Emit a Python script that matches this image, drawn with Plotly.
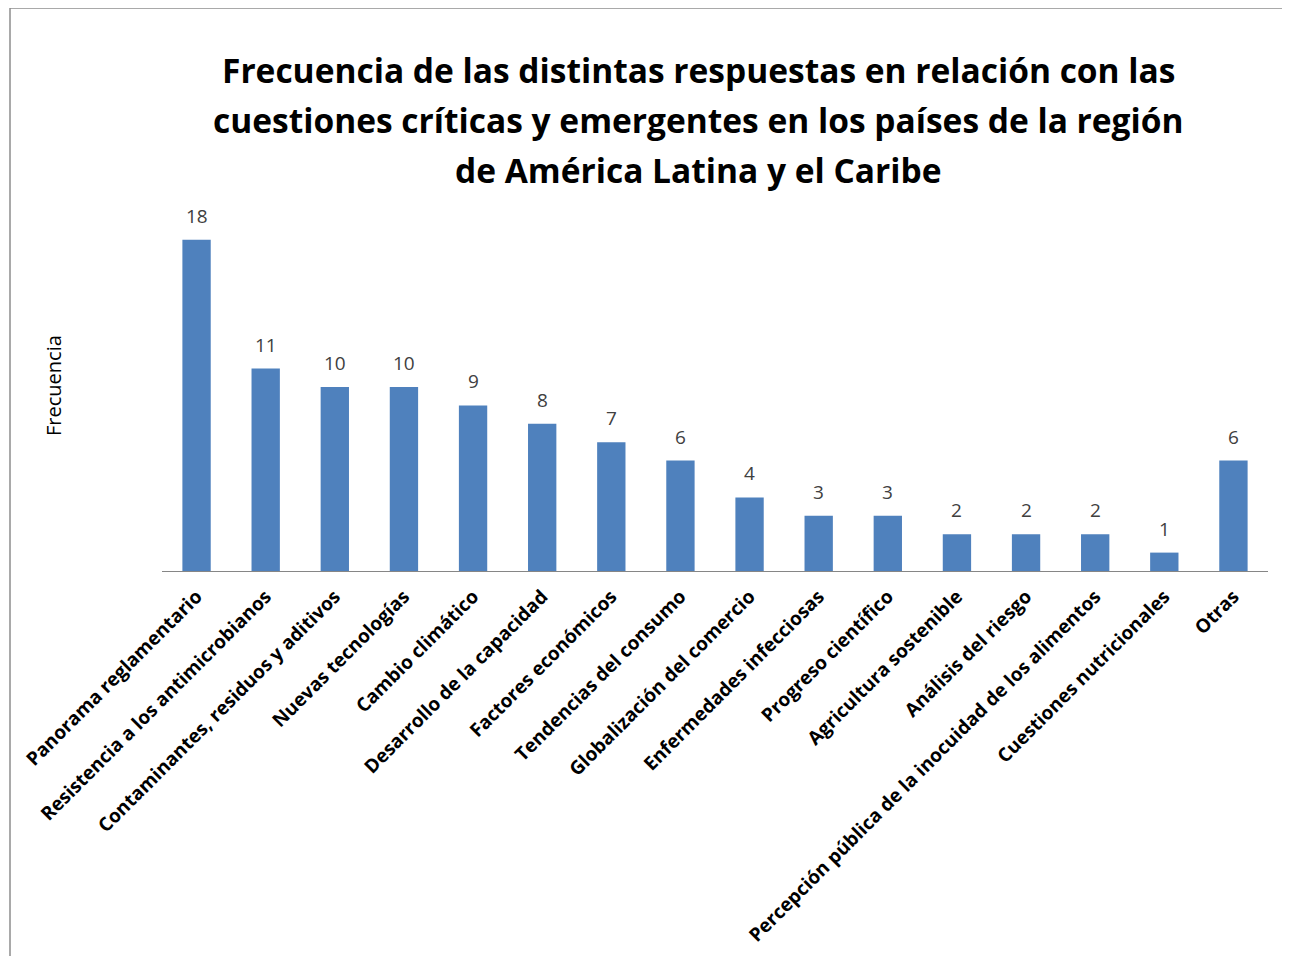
import plotly.graph_objects as go

categories = [
    "Panorama reglamentario",
    "Resistencia a los antimicrobianos",
    "Contaminantes, residuos y aditivos",
    "Nuevas tecnologías",
    "Cambio climático",
    "Desarrollo de la capacidad",
    "Factores económicos",
    "Tendencias del consumo",
    "Globalización del comercio",
    "Enfermedades infecciosas",
    "Progreso científico",
    "Agricultura sostenible",
    "Análisis del riesgo",
    "Percepción pública de la inocuidad de los alimentos",
    "Cuestiones nutricionales",
    "Otras",
]
values = [18, 11, 10, 10, 9, 8, 7, 6, 4, 3, 3, 2, 2, 2, 1, 6]

title_lines = [
    "Frecuencia de las distintas respuestas en relación con las",
    "cuestiones críticas y emergentes en los países de la región",
    "de América Latina y el Caribe",
]
y_title = "Frecuencia"

# page body has an 8px margin; work in screen coordinates and shift
OFF = 8
W, H = 1290 - OFF, 956 - OFF
L, R, T = 162 - OFF, 22, 203 - OFF
BASE = 571 - OFF
B = H - BASE
PW, PH = W - L - R, H - T - B

def px(x):
    return (x - OFF - L) / PW

def py(y):
    return (BASE - (y - OFF)) / PH

FONT = "Open Sans"

fig = go.Figure(go.Bar(
    x=categories, y=values,
    marker=dict(color="#4F81BD", line=dict(color="#4F81BD", width=0)),
    width=0.41,
    cliponaxis=False,
))

annotations = []
for c, v in zip(categories, values):
    annotations.append(dict(
        text=str(v), x=c, y=v, xref="x", yref="y",
        xanchor="center", yanchor="middle", yshift=24, showarrow=False,
        font=dict(family=FONT, size=19, color="#404040"),
    ))
for i, line in enumerate(title_lines):
    annotations.append(dict(
        text="<b>" + line + "</b>", xref="paper", yref="paper",
        x=px(698), y=py(70 + 50 * i), xanchor="center", yanchor="middle",
        showarrow=False, font=dict(family=FONT, size=33.5, color="#000000"),
    ))
annotations.append(dict(
    text=y_title, xref="paper", yref="paper", x=px(53), y=py(386),
    xanchor="center", yanchor="middle", textangle=-90, showarrow=False,
    font=dict(family=FONT, size=20, color="#000000"),
))

shapes = [
    dict(type="line", xref="paper", yref="paper", x0=px(10), x1=px(10),
         y0=py(8), y1=py(970), line=dict(color="#8C8C8C", width=1.5)),
    dict(type="line", xref="paper", yref="paper", x0=px(10), x1=px(1300),
         y0=py(8), y1=py(8), line=dict(color="#8C8C8C", width=1.5)),
]

fig.update_layout(
    width=W, height=H,
    margin=dict(l=L, r=R, t=T, b=B, autoexpand=False),
    paper_bgcolor="white", plot_bgcolor="white",
    showlegend=False,
    annotations=annotations,
    shapes=shapes,
    xaxis=dict(
        tickangle=-45,
        tickfont=dict(family=FONT, size=19, color="#000000", weight="bold"),
        ticklabelstandoff=6,
        showline=True, linecolor="#868686", linewidth=1,
        ticks="", showgrid=False,
    ),
    yaxis=dict(range=[0, 20], visible=False, showgrid=False),
)

fig.write_html("out.html")
